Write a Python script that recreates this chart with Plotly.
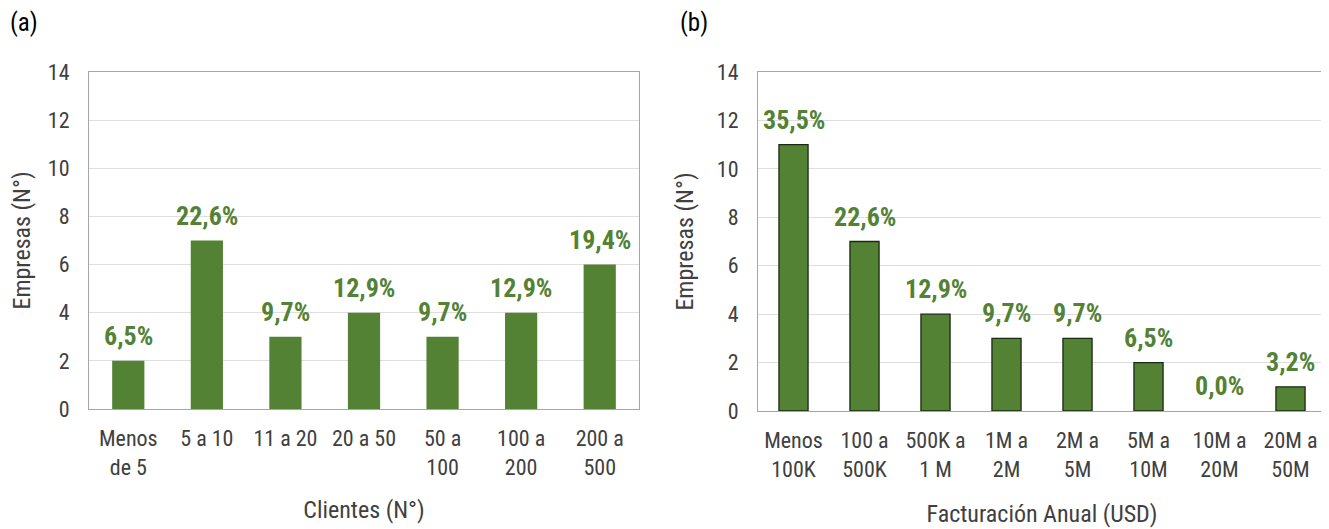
import plotly.graph_objects as go

# Panel (a)
clientes_cats = ["Menos<br>de 5", "5 a 10", "11 a 20", "20 a 50", "50 a<br>100", "100 a<br>200", "200 a<br>500"]
clientes_vals = [2, 7, 3, 4, 3, 4, 6]
clientes_pct = ["6,5%", "22,6%", "9,7%", "12,9%", "9,7%", "12,9%", "19,4%"]

# Panel (b)
fact_cats = ["Menos<br>100K", "100 a<br>500K", "500K a<br>1 M", "1M a<br>2M", "2M a<br>5M", "5M a<br>10M", "10M a<br>20M", "20M a<br>50M"]
fact_vals = [11, 7, 4, 3, 3, 2, 0, 1]
fact_pct = ["35,5%", "22,6%", "12,9%", "9,7%", "9,7%", "6,5%", "0,0%", "3,2%"]

y_ticks = [0, 2, 4, 6, 8, 10, 12, 14]

FONT = "Roboto Condensed, Roboto, sans-serif"
GREEN = "#548235"
TXT = "#404040"
OFF = 8  # page body margin compensation (px)
W, H = 1329, 529

fig = go.Figure()
fig.add_trace(go.Bar(x=clientes_cats, y=clientes_vals,
                     marker=dict(color=GREEN, line=dict(width=0)), width=0.41,
                     xaxis="x", yaxis="y", showlegend=False, hoverinfo="x+y"))
fig.add_trace(go.Bar(x=fact_cats, y=fact_vals,
                     marker=dict(color=GREEN,
                                 line=dict(width=[1.3 if v > 0 else 0 for v in fact_vals], color="#1a2a10")),
                     width=0.41,
                     xaxis="x2", yaxis="y2", showlegend=False, hoverinfo="x+y"))

annots = []
for cats, vals, pcts, xr, yr in [(clientes_cats, clientes_vals, clientes_pct, "x", "y"),
                                 (fact_cats, fact_vals, fact_pct, "x2", "y2")]:
    for c, v, p in zip(cats, vals, pcts):
        annots.append(dict(x=c, y=v, xref=xr, yref=yr, text=p, showarrow=False,
                           yanchor="bottom", xanchor="center", yshift=8,
                           font=dict(size=26, color=GREEN, family=FONT, weight="bold")))

common_y = dict(range=[0, 14], tickvals=y_ticks, showgrid=True, gridcolor="#dedede", gridwidth=1,
                showline=True, linecolor="#a6a6a6", mirror=True, ticks="", ticklen=0,
                ticklabelstandoff=14,
                tickfont=dict(size=22, color=TXT, family=FONT), zeroline=False,
                title=dict(text="Empresas (N°)", font=dict(size=24, color=TXT, family=FONT), standoff=16))
common_x = dict(showline=True, linecolor="#a6a6a6", mirror=True, ticks="",
                ticklabelstandoff=10,
                tickfont=dict(size=22, color=TXT, family=FONT), showgrid=False)

annots += [
    dict(text="(a)", x=(8 - OFF) / W, y=1 - (22 - OFF) / H, xref="paper", yref="paper", showarrow=False,
         xanchor="left", yanchor="middle", font=dict(size=25, color="black", family=FONT)),
    dict(text="(b)", x=(678 - OFF) / W, y=1 - (22 - OFF) / H, xref="paper", yref="paper", showarrow=False,
         xanchor="left", yanchor="middle", font=dict(size=25, color="black", family=FONT)),
]

fig.update_layout(
    width=W, height=H,
    margin=dict(l=0, r=0, t=0, b=0, autoexpand=False),
    paper_bgcolor="white", plot_bgcolor="white",
    font=dict(family=FONT, color=TXT),
    xaxis=dict(**common_x, domain=[(89 - OFF) / W, (639 - OFF) / W],
               title=dict(text="Clientes (N°)", font=dict(size=24, color=TXT, family=FONT), standoff=22)),
    yaxis=dict(**common_y, anchor="x", domain=[(H - 409 + OFF) / H, (H - 72 + OFF) / H]),
    xaxis2=dict(**common_x, domain=[(758 - OFF) / W, (1326 - OFF) / W], anchor="y2",
                title=dict(text="Facturación Anual (USD)", font=dict(size=24, color=TXT, family=FONT), standoff=24)),
    yaxis2=dict(**common_y, anchor="x2", domain=[(H - 411 + OFF) / H, (H - 72 + OFF) / H]),
    annotations=annots,
)

fig.write_html("out.html")
